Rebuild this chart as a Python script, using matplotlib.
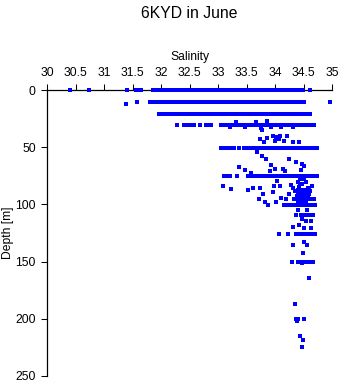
import matplotlib
matplotlib.use("Agg")
import matplotlib.pyplot as plt

plt.rcParams['font.family'] = ['Liberation Sans', 'DejaVu Sans']

# ---- data: salinity values observed at standard depths ----
depth_levels = [0, 10.5, 20.5, 30.5, 50.3, 75.4, 100.3, 109.6, 125.7, 150.3, 200.3]

sal_0m = [30.39, 30.73, 31.40, 31.55, 31.59, 31.64, 31.86, 31.91, 31.96, 32.01, 32.06,
          32.11, 32.16, 32.21, 32.26, 32.31, 32.36, 32.41, 32.46, 32.51, 32.56, 32.61,
          32.66, 32.71, 32.76, 32.81, 32.86, 32.91, 32.96, 33.01, 33.06, 33.11, 33.16,
          33.21, 33.26, 33.31, 33.36, 33.41, 33.46, 33.51, 33.56, 33.61, 33.66, 33.71,
          33.76, 33.81, 33.86, 33.91, 33.96, 34.01, 34.06, 34.11, 34.16, 34.21, 34.26,
          34.31, 34.35, 34.42, 34.46, 34.49, 34.62]
sal_10m = [31.58, 31.81, 31.86, 31.91, 31.96, 32.01, 32.06, 32.11, 32.16, 32.21, 32.26,
           32.31, 32.36, 32.41, 32.46, 32.51, 32.56, 32.61, 32.66, 32.71, 32.76, 32.81,
           32.86, 32.91, 32.96, 33.01, 33.06, 33.11, 33.16, 33.21, 33.26, 33.31, 33.36,
           33.41, 33.46, 33.51, 33.56, 33.61, 33.66, 33.71, 33.76, 33.81, 33.86, 33.91,
           33.96, 34.01, 34.06, 34.11, 34.16, 34.21, 34.26, 34.31, 34.36, 34.38, 34.44,
           34.50, 34.96]
sal_20m = [31.96, 32.01, 32.06, 32.11, 32.16, 32.21, 32.26, 32.31, 32.36, 32.41, 32.46,
           32.51, 32.56, 32.61, 32.66, 32.71, 32.76, 32.81, 32.86, 32.91, 32.96, 33.01,
           33.06, 33.11, 33.16, 33.21, 33.26, 33.31, 33.36, 33.41, 33.46, 33.51, 33.56,
           33.61, 33.66, 33.71, 33.76, 33.81, 33.86, 33.91, 33.96, 34.01, 34.06, 34.11,
           34.16, 34.21, 34.26, 34.31, 34.36, 34.41, 34.46, 34.51, 34.56, 34.60, 34.62]
sal_30m = [32.27, 32.40, 32.45, 32.52, 32.57, 32.69, 32.78, 32.83, 32.88, 33.05, 33.10,
           33.14, 33.19, 33.24, 33.29, 33.34, 33.39, 33.44, 33.49, 33.54, 33.59, 33.64,
           33.69, 33.74, 33.79, 33.84, 33.89, 33.94, 33.99, 34.04, 34.09, 34.14, 34.19,
           34.24, 34.29, 34.34, 34.39, 34.44, 34.49, 34.54, 34.59, 34.64, 34.68]
sal_50m = [33.05, 33.10, 33.15, 33.22, 33.27, 33.36, 33.45, 33.50, 33.55, 33.60, 33.65,
           33.70, 33.75, 33.80, 33.85, 33.90, 33.95, 34.00, 34.05, 34.10, 34.15, 34.20,
           34.25, 34.30, 34.35, 34.40, 34.45, 34.50, 34.55, 34.60, 34.65, 34.70, 34.73]
sal_75m = [33.10, 33.18, 33.21, 33.34, 33.53, 33.58, 33.63, 33.68, 33.73, 33.78, 33.83,
           33.88, 33.93, 33.98, 34.03, 34.08, 34.13, 34.18, 34.23, 34.28, 34.33, 34.38,
           34.43, 34.48, 34.53, 34.58, 34.63, 34.68, 34.72, 34.74]
sal_100m = [34.16, 34.21, 34.26, 34.31, 34.36, 34.41, 34.46, 34.51, 34.56, 34.61, 34.66,
            34.70]
sal_110m = [34.45, 34.50, 34.55, 34.60, 34.66]
sal_125m = [34.07, 34.23, 34.37, 34.42, 34.47, 34.52, 34.57, 34.62, 34.67, 34.70]
sal_150m = [34.30, 34.41, 34.47, 34.54, 34.58, 34.62, 34.66]
sal_200m = [34.37, 34.41, 34.51]

# scattered observations between the standard depths
sal_extra = [31.38, 33.21, 33.47, 33.76, 33.93, 34.10, 34.32, 33.31, 33.66, 33.86,
             33.77, 33.74, 33.86, 33.96, 34.01, 34.07, 34.09, 34.21, 33.80, 33.99,
             34.15, 34.31, 34.42,
             33.69, 33.77, 33.84, 34.24, 34.37, 34.48, 34.50, 33.92, 33.36, 33.48,
             33.58, 33.91, 34.00, 34.14, 34.17, 34.46,
             34.04, 33.09, 33.22, 33.52, 33.62, 33.74, 33.98, 34.09, 34.28, 34.32,
             34.42, 34.48, 34.57, 34.64, 33.79, 33.96, 34.25, 34.11, 33.72, 33.83,
             33.87, 34.02, 34.20,
             34.44, 34.50, 34.40, 34.55, 34.44,
             34.40, 34.45, 34.50, 34.55, 34.60, 34.35, 34.62,
             34.40, 34.45, 34.50, 34.55, 34.60,
             34.38, 34.43, 34.48, 34.53, 34.58,
             34.33, 34.38, 34.43, 34.48, 34.53, 34.58, 34.63, 34.68,
             34.40, 34.45, 34.50, 34.55,
             34.40, 34.56, 34.37, 34.47, 34.54, 34.63, 34.32, 34.42, 34.51, 34.63,
             34.32, 34.56, 34.51, 34.49, 34.47, 34.60, 34.35, 34.39, 34.44, 34.49,
             34.48]
dep_extra = [11.7, 32.5, 32.0, 33.0, 32.5, 32.5, 32.5, 28.0, 28.0, 27.0,
             35.2, 42.4, 42.0, 40.4, 41.0, 42.4, 40.4, 40.4, 45.3, 44.7,
             44.7, 45.3, 45.3,
             53.6, 57.2, 60.5, 60.5, 63.0, 64.5, 66.0, 65.0, 67.3, 70.1,
             72.1, 71.0, 68.7, 68.7, 71.0, 70.0,
             79.8, 83.6, 86.1, 87.1, 85.8, 85.4, 84.2, 84.2, 83.0, 85.4,
             84.8, 82.5, 85.4, 84.2, 90.6, 89.3, 90.6, 94.1, 95.6, 97.6,
             100.9, 97.6, 95.6,
             78.0, 78.0, 80.0, 80.0, 82.0,
             87.0, 87.0, 87.0, 87.0, 87.0, 88.0, 88.0,
             90.6, 90.6, 90.6, 90.6, 90.6,
             93.0, 93.0, 93.0, 93.0, 93.0,
             95.3, 95.3, 95.3, 95.3, 95.3, 95.3, 95.3, 95.3,
             98.0, 98.0, 98.0, 98.0,
             105.0, 105.0, 109.0, 112.5, 114.6, 114.6, 119.3, 118.4, 120.5, 121.0,
             135.4, 135.4, 132.5, 142.4, 151.5, 164.3, 187.1, 202.0, 215.0, 218.7,
             225.0]

x_ticks = [30, 30.5, 31, 31.5, 32, 32.5, 33, 33.5, 34, 34.5, 35]
x_ticklabels = ['30', '30.5', '31', '31.5', '32', '32.5', '33', '33.5', '34', '34.5', '35']
y_ticks = [0, 50, 100, 150, 200, 250]

level_sals = [sal_0m, sal_10m, sal_20m, sal_30m, sal_50m, sal_75m, sal_100m,
              sal_110m, sal_125m, sal_150m, sal_200m]

# ---- figure ----
fig = plt.figure(figsize=(3.41, 3.84), dpi=100)
ax = fig.add_axes([0.1387, 0.0216, 0.835, 0.7432])

blue = '#0000ff'
mstyle = dict(linestyle='none', marker='s', ms=2.2, mew=0, color=blue,
              antialiased=False, clip_on=False, zorder=4)
for d, sals in zip(depth_levels, level_sals):
    ax.plot(sals, [d] * len(sals), **mstyle)
ax.plot(sal_extra, dep_extra, **mstyle)

ax.set_xlim(30, 35)
ax.set_ylim(250, 0)
ax.xaxis.set_ticks_position('top')
ax.xaxis.set_label_position('top')
ax.set_xticks(x_ticks)
ax.set_xticklabels(x_ticklabels)
ax.set_yticks(y_ticks)
ax.tick_params(axis='both', direction='out', length=4.3, width=0.75,
               labelsize=8.7, pad=4, colors='black')

for side in ['right', 'bottom']:
    ax.spines[side].set_visible(False)
for side in ['top', 'left']:
    ax.spines[side].set_linewidth(0.9)
    ax.spines[side].set_color('black')
    ax.spines[side].set_zorder(2)

ax.set_xlabel('Salinity', fontsize=8.7, labelpad=5)
ax.set_ylabel('Depth [m]', fontsize=8.7, labelpad=1)
fig.text(0.5556, 0.966, '6KYD in June', ha='center', va='center', fontsize=11.3)

fig.savefig('out.png', dpi=100)
